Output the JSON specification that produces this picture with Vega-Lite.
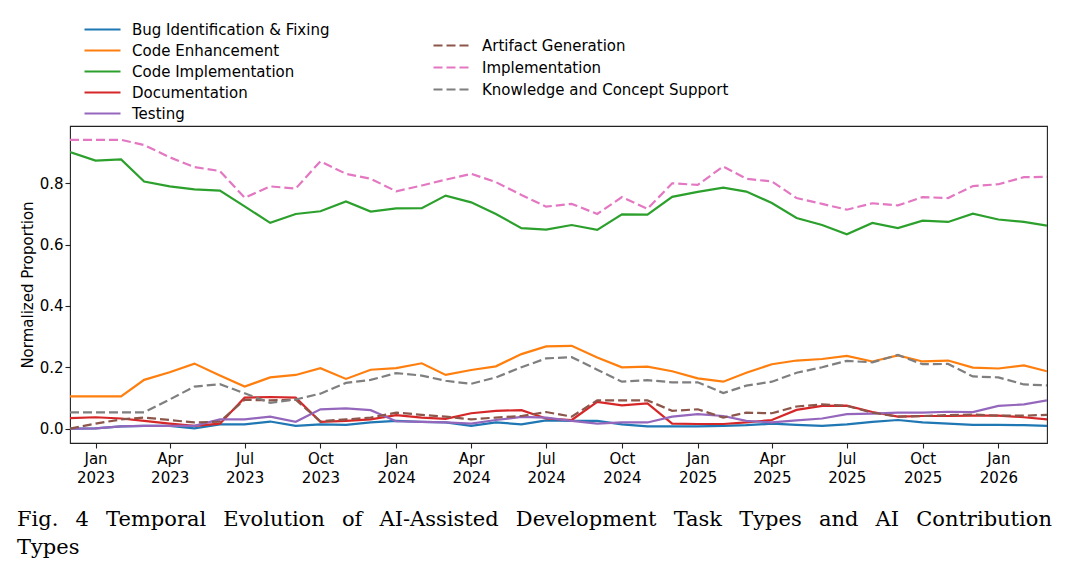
{
  "$schema": "https://vega.github.io/schema/vega-lite/v6.json",
  "width": 977,
  "height": 317,
  "autosize": {"type": "none"},
  "padding": {"left": 70, "top": 126, "right": 23, "bottom": 130},
  "background": "white",
  "title": {
    "text": ["Fig.\u2002 4\u2002 Temporal\u2002 Evolution\u2002 of\u2002 AI-Assisted\u2002 Development\u2002 Task\u2002 Types\u2002 and\u2002 AI\u2002 Contribution", "Types"],
    "orient": "bottom",
    "anchor": "start",
    "frame": "group",
    "dx": -53,
    "offset": 24,
    "font": "DejaVu Serif",
    "fontSize": 21,
    "fontWeight": "normal",
    "lineHeight": 28,
    "color": "black"
  },
  "datasets": {
    "tasks": [
      {"month": "2022-12-01T00:00:00", "series": "Bug Identification & Fixing", "value": 0.000},
      {"month": "2023-01-01T00:00:00", "series": "Bug Identification & Fixing", "value": 0.001},
      {"month": "2023-02-01T00:00:00", "series": "Bug Identification & Fixing", "value": 0.007},
      {"month": "2023-03-01T00:00:00", "series": "Bug Identification & Fixing", "value": 0.009},
      {"month": "2023-04-01T00:00:00", "series": "Bug Identification & Fixing", "value": 0.009},
      {"month": "2023-05-01T00:00:00", "series": "Bug Identification & Fixing", "value": 0.001},
      {"month": "2023-06-01T00:00:00", "series": "Bug Identification & Fixing", "value": 0.014},
      {"month": "2023-07-01T00:00:00", "series": "Bug Identification & Fixing", "value": 0.014},
      {"month": "2023-08-01T00:00:00", "series": "Bug Identification & Fixing", "value": 0.023},
      {"month": "2023-09-01T00:00:00", "series": "Bug Identification & Fixing", "value": 0.009},
      {"month": "2023-10-01T00:00:00", "series": "Bug Identification & Fixing", "value": 0.014},
      {"month": "2023-11-01T00:00:00", "series": "Bug Identification & Fixing", "value": 0.012},
      {"month": "2023-12-01T00:00:00", "series": "Bug Identification & Fixing", "value": 0.020},
      {"month": "2024-01-01T00:00:00", "series": "Bug Identification & Fixing", "value": 0.025},
      {"month": "2024-02-01T00:00:00", "series": "Bug Identification & Fixing", "value": 0.022},
      {"month": "2024-03-01T00:00:00", "series": "Bug Identification & Fixing", "value": 0.020},
      {"month": "2024-04-01T00:00:00", "series": "Bug Identification & Fixing", "value": 0.009},
      {"month": "2024-05-01T00:00:00", "series": "Bug Identification & Fixing", "value": 0.020},
      {"month": "2024-06-01T00:00:00", "series": "Bug Identification & Fixing", "value": 0.014},
      {"month": "2024-07-01T00:00:00", "series": "Bug Identification & Fixing", "value": 0.027},
      {"month": "2024-08-01T00:00:00", "series": "Bug Identification & Fixing", "value": 0.025},
      {"month": "2024-09-01T00:00:00", "series": "Bug Identification & Fixing", "value": 0.025},
      {"month": "2024-10-01T00:00:00", "series": "Bug Identification & Fixing", "value": 0.014},
      {"month": "2024-11-01T00:00:00", "series": "Bug Identification & Fixing", "value": 0.007},
      {"month": "2024-12-01T00:00:00", "series": "Bug Identification & Fixing", "value": 0.007},
      {"month": "2025-01-01T00:00:00", "series": "Bug Identification & Fixing", "value": 0.007},
      {"month": "2025-02-01T00:00:00", "series": "Bug Identification & Fixing", "value": 0.009},
      {"month": "2025-03-01T00:00:00", "series": "Bug Identification & Fixing", "value": 0.011},
      {"month": "2025-04-01T00:00:00", "series": "Bug Identification & Fixing", "value": 0.016},
      {"month": "2025-05-01T00:00:00", "series": "Bug Identification & Fixing", "value": 0.012},
      {"month": "2025-06-01T00:00:00", "series": "Bug Identification & Fixing", "value": 0.009},
      {"month": "2025-07-01T00:00:00", "series": "Bug Identification & Fixing", "value": 0.014},
      {"month": "2025-08-01T00:00:00", "series": "Bug Identification & Fixing", "value": 0.022},
      {"month": "2025-09-01T00:00:00", "series": "Bug Identification & Fixing", "value": 0.028},
      {"month": "2025-10-01T00:00:00", "series": "Bug Identification & Fixing", "value": 0.020},
      {"month": "2025-11-01T00:00:00", "series": "Bug Identification & Fixing", "value": 0.016},
      {"month": "2025-12-01T00:00:00", "series": "Bug Identification & Fixing", "value": 0.012},
      {"month": "2026-01-01T00:00:00", "series": "Bug Identification & Fixing", "value": 0.012},
      {"month": "2026-02-01T00:00:00", "series": "Bug Identification & Fixing", "value": 0.011},
      {"month": "2026-03-01T00:00:00", "series": "Bug Identification & Fixing", "value": 0.009},

      {"month": "2022-12-01T00:00:00", "series": "Code Enhancement", "value": 0.105},
      {"month": "2023-01-01T00:00:00", "series": "Code Enhancement", "value": 0.105},
      {"month": "2023-02-01T00:00:00", "series": "Code Enhancement", "value": 0.105},
      {"month": "2023-03-01T00:00:00", "series": "Code Enhancement", "value": 0.159},
      {"month": "2023-04-01T00:00:00", "series": "Code Enhancement", "value": 0.184},
      {"month": "2023-05-01T00:00:00", "series": "Code Enhancement", "value": 0.212},
      {"month": "2023-06-01T00:00:00", "series": "Code Enhancement", "value": 0.173},
      {"month": "2023-07-01T00:00:00", "series": "Code Enhancement", "value": 0.137},
      {"month": "2023-08-01T00:00:00", "series": "Code Enhancement", "value": 0.167},
      {"month": "2023-09-01T00:00:00", "series": "Code Enhancement", "value": 0.175},
      {"month": "2023-10-01T00:00:00", "series": "Code Enhancement", "value": 0.197},
      {"month": "2023-11-01T00:00:00", "series": "Code Enhancement", "value": 0.162},
      {"month": "2023-12-01T00:00:00", "series": "Code Enhancement", "value": 0.192},
      {"month": "2024-01-01T00:00:00", "series": "Code Enhancement", "value": 0.197},
      {"month": "2024-02-01T00:00:00", "series": "Code Enhancement", "value": 0.213},
      {"month": "2024-03-01T00:00:00", "series": "Code Enhancement", "value": 0.175},
      {"month": "2024-04-01T00:00:00", "series": "Code Enhancement", "value": 0.191},
      {"month": "2024-05-01T00:00:00", "series": "Code Enhancement", "value": 0.203},
      {"month": "2024-06-01T00:00:00", "series": "Code Enhancement", "value": 0.243},
      {"month": "2024-07-01T00:00:00", "series": "Code Enhancement", "value": 0.268},
      {"month": "2024-08-01T00:00:00", "series": "Code Enhancement", "value": 0.270},
      {"month": "2024-09-01T00:00:00", "series": "Code Enhancement", "value": 0.232},
      {"month": "2024-10-01T00:00:00", "series": "Code Enhancement", "value": 0.200},
      {"month": "2024-11-01T00:00:00", "series": "Code Enhancement", "value": 0.202},
      {"month": "2024-12-01T00:00:00", "series": "Code Enhancement", "value": 0.187},
      {"month": "2025-01-01T00:00:00", "series": "Code Enhancement", "value": 0.164},
      {"month": "2025-02-01T00:00:00", "series": "Code Enhancement", "value": 0.153},
      {"month": "2025-03-01T00:00:00", "series": "Code Enhancement", "value": 0.182},
      {"month": "2025-04-01T00:00:00", "series": "Code Enhancement", "value": 0.210},
      {"month": "2025-05-01T00:00:00", "series": "Code Enhancement", "value": 0.222},
      {"month": "2025-06-01T00:00:00", "series": "Code Enhancement", "value": 0.227},
      {"month": "2025-07-01T00:00:00", "series": "Code Enhancement", "value": 0.237},
      {"month": "2025-08-01T00:00:00", "series": "Code Enhancement", "value": 0.219},
      {"month": "2025-09-01T00:00:00", "series": "Code Enhancement", "value": 0.239},
      {"month": "2025-10-01T00:00:00", "series": "Code Enhancement", "value": 0.219},
      {"month": "2025-11-01T00:00:00", "series": "Code Enhancement", "value": 0.222},
      {"month": "2025-12-01T00:00:00", "series": "Code Enhancement", "value": 0.199},
      {"month": "2026-01-01T00:00:00", "series": "Code Enhancement", "value": 0.196},
      {"month": "2026-02-01T00:00:00", "series": "Code Enhancement", "value": 0.206},
      {"month": "2026-03-01T00:00:00", "series": "Code Enhancement", "value": 0.187},

      {"month": "2022-12-01T00:00:00", "series": "Code Implementation", "value": 0.902},
      {"month": "2023-01-01T00:00:00", "series": "Code Implementation", "value": 0.874},
      {"month": "2023-02-01T00:00:00", "series": "Code Implementation", "value": 0.878},
      {"month": "2023-03-01T00:00:00", "series": "Code Implementation", "value": 0.806},
      {"month": "2023-04-01T00:00:00", "series": "Code Implementation", "value": 0.790},
      {"month": "2023-05-01T00:00:00", "series": "Code Implementation", "value": 0.780},
      {"month": "2023-06-01T00:00:00", "series": "Code Implementation", "value": 0.776},
      {"month": "2023-07-01T00:00:00", "series": "Code Implementation", "value": 0.725},
      {"month": "2023-08-01T00:00:00", "series": "Code Implementation", "value": 0.671},
      {"month": "2023-09-01T00:00:00", "series": "Code Implementation", "value": 0.700},
      {"month": "2023-10-01T00:00:00", "series": "Code Implementation", "value": 0.709},
      {"month": "2023-11-01T00:00:00", "series": "Code Implementation", "value": 0.741},
      {"month": "2023-12-01T00:00:00", "series": "Code Implementation", "value": 0.708},
      {"month": "2024-01-01T00:00:00", "series": "Code Implementation", "value": 0.718},
      {"month": "2024-02-01T00:00:00", "series": "Code Implementation", "value": 0.719},
      {"month": "2024-03-01T00:00:00", "series": "Code Implementation", "value": 0.760},
      {"month": "2024-04-01T00:00:00", "series": "Code Implementation", "value": 0.738},
      {"month": "2024-05-01T00:00:00", "series": "Code Implementation", "value": 0.700},
      {"month": "2024-06-01T00:00:00", "series": "Code Implementation", "value": 0.654},
      {"month": "2024-07-01T00:00:00", "series": "Code Implementation", "value": 0.649},
      {"month": "2024-08-01T00:00:00", "series": "Code Implementation", "value": 0.664},
      {"month": "2024-09-01T00:00:00", "series": "Code Implementation", "value": 0.648},
      {"month": "2024-10-01T00:00:00", "series": "Code Implementation", "value": 0.699},
      {"month": "2024-11-01T00:00:00", "series": "Code Implementation", "value": 0.698},
      {"month": "2024-12-01T00:00:00", "series": "Code Implementation", "value": 0.756},
      {"month": "2025-01-01T00:00:00", "series": "Code Implementation", "value": 0.772},
      {"month": "2025-02-01T00:00:00", "series": "Code Implementation", "value": 0.786},
      {"month": "2025-03-01T00:00:00", "series": "Code Implementation", "value": 0.773},
      {"month": "2025-04-01T00:00:00", "series": "Code Implementation", "value": 0.736},
      {"month": "2025-05-01T00:00:00", "series": "Code Implementation", "value": 0.687},
      {"month": "2025-06-01T00:00:00", "series": "Code Implementation", "value": 0.664},
      {"month": "2025-07-01T00:00:00", "series": "Code Implementation", "value": 0.634},
      {"month": "2025-08-01T00:00:00", "series": "Code Implementation", "value": 0.671},
      {"month": "2025-09-01T00:00:00", "series": "Code Implementation", "value": 0.654},
      {"month": "2025-10-01T00:00:00", "series": "Code Implementation", "value": 0.678},
      {"month": "2025-11-01T00:00:00", "series": "Code Implementation", "value": 0.674},
      {"month": "2025-12-01T00:00:00", "series": "Code Implementation", "value": 0.701},
      {"month": "2026-01-01T00:00:00", "series": "Code Implementation", "value": 0.682},
      {"month": "2026-02-01T00:00:00", "series": "Code Implementation", "value": 0.674},
      {"month": "2026-03-01T00:00:00", "series": "Code Implementation", "value": 0.662},

      {"month": "2022-12-01T00:00:00", "series": "Documentation", "value": 0.034},
      {"month": "2023-01-01T00:00:00", "series": "Documentation", "value": 0.037},
      {"month": "2023-02-01T00:00:00", "series": "Documentation", "value": 0.033},
      {"month": "2023-03-01T00:00:00", "series": "Documentation", "value": 0.025},
      {"month": "2023-04-01T00:00:00", "series": "Documentation", "value": 0.016},
      {"month": "2023-05-01T00:00:00", "series": "Documentation", "value": 0.009},
      {"month": "2023-06-01T00:00:00", "series": "Documentation", "value": 0.016},
      {"month": "2023-07-01T00:00:00", "series": "Documentation", "value": 0.101},
      {"month": "2023-08-01T00:00:00", "series": "Documentation", "value": 0.103},
      {"month": "2023-09-01T00:00:00", "series": "Documentation", "value": 0.101},
      {"month": "2023-10-01T00:00:00", "series": "Documentation", "value": 0.022},
      {"month": "2023-11-01T00:00:00", "series": "Documentation", "value": 0.025},
      {"month": "2023-12-01T00:00:00", "series": "Documentation", "value": 0.030},
      {"month": "2024-01-01T00:00:00", "series": "Documentation", "value": 0.044},
      {"month": "2024-02-01T00:00:00", "series": "Documentation", "value": 0.036},
      {"month": "2024-03-01T00:00:00", "series": "Documentation", "value": 0.032},
      {"month": "2024-04-01T00:00:00", "series": "Documentation", "value": 0.050},
      {"month": "2024-05-01T00:00:00", "series": "Documentation", "value": 0.058},
      {"month": "2024-06-01T00:00:00", "series": "Documentation", "value": 0.060},
      {"month": "2024-07-01T00:00:00", "series": "Documentation", "value": 0.033},
      {"month": "2024-08-01T00:00:00", "series": "Documentation", "value": 0.028},
      {"month": "2024-09-01T00:00:00", "series": "Documentation", "value": 0.087},
      {"month": "2024-10-01T00:00:00", "series": "Documentation", "value": 0.076},
      {"month": "2024-11-01T00:00:00", "series": "Documentation", "value": 0.082},
      {"month": "2024-12-01T00:00:00", "series": "Documentation", "value": 0.016},
      {"month": "2025-01-01T00:00:00", "series": "Documentation", "value": 0.015},
      {"month": "2025-02-01T00:00:00", "series": "Documentation", "value": 0.015},
      {"month": "2025-03-01T00:00:00", "series": "Documentation", "value": 0.020},
      {"month": "2025-04-01T00:00:00", "series": "Documentation", "value": 0.028},
      {"month": "2025-05-01T00:00:00", "series": "Documentation", "value": 0.061},
      {"month": "2025-06-01T00:00:00", "series": "Documentation", "value": 0.074},
      {"month": "2025-07-01T00:00:00", "series": "Documentation", "value": 0.075},
      {"month": "2025-08-01T00:00:00", "series": "Documentation", "value": 0.054},
      {"month": "2025-09-01T00:00:00", "series": "Documentation", "value": 0.039},
      {"month": "2025-10-01T00:00:00", "series": "Documentation", "value": 0.041},
      {"month": "2025-11-01T00:00:00", "series": "Documentation", "value": 0.041},
      {"month": "2025-12-01T00:00:00", "series": "Documentation", "value": 0.042},
      {"month": "2026-01-01T00:00:00", "series": "Documentation", "value": 0.042},
      {"month": "2026-02-01T00:00:00", "series": "Documentation", "value": 0.037},
      {"month": "2026-03-01T00:00:00", "series": "Documentation", "value": 0.030},

      {"month": "2022-12-01T00:00:00", "series": "Testing", "value": 0.000},
      {"month": "2023-01-01T00:00:00", "series": "Testing", "value": 0.001},
      {"month": "2023-02-01T00:00:00", "series": "Testing", "value": 0.007},
      {"month": "2023-03-01T00:00:00", "series": "Testing", "value": 0.009},
      {"month": "2023-04-01T00:00:00", "series": "Testing", "value": 0.009},
      {"month": "2023-05-01T00:00:00", "series": "Testing", "value": 0.009},
      {"month": "2023-06-01T00:00:00", "series": "Testing", "value": 0.030},
      {"month": "2023-07-01T00:00:00", "series": "Testing", "value": 0.030},
      {"month": "2023-08-01T00:00:00", "series": "Testing", "value": 0.039},
      {"month": "2023-09-01T00:00:00", "series": "Testing", "value": 0.022},
      {"month": "2023-10-01T00:00:00", "series": "Testing", "value": 0.063},
      {"month": "2023-11-01T00:00:00", "series": "Testing", "value": 0.066},
      {"month": "2023-12-01T00:00:00", "series": "Testing", "value": 0.060},
      {"month": "2024-01-01T00:00:00", "series": "Testing", "value": 0.024},
      {"month": "2024-02-01T00:00:00", "series": "Testing", "value": 0.022},
      {"month": "2024-03-01T00:00:00", "series": "Testing", "value": 0.020},
      {"month": "2024-04-01T00:00:00", "series": "Testing", "value": 0.016},
      {"month": "2024-05-01T00:00:00", "series": "Testing", "value": 0.028},
      {"month": "2024-06-01T00:00:00", "series": "Testing", "value": 0.038},
      {"month": "2024-07-01T00:00:00", "series": "Testing", "value": 0.036},
      {"month": "2024-08-01T00:00:00", "series": "Testing", "value": 0.025},
      {"month": "2024-09-01T00:00:00", "series": "Testing", "value": 0.016},
      {"month": "2024-10-01T00:00:00", "series": "Testing", "value": 0.020},
      {"month": "2024-11-01T00:00:00", "series": "Testing", "value": 0.020},
      {"month": "2024-12-01T00:00:00", "series": "Testing", "value": 0.039},
      {"month": "2025-01-01T00:00:00", "series": "Testing", "value": 0.047},
      {"month": "2025-02-01T00:00:00", "series": "Testing", "value": 0.041},
      {"month": "2025-03-01T00:00:00", "series": "Testing", "value": 0.025},
      {"month": "2025-04-01T00:00:00", "series": "Testing", "value": 0.020},
      {"month": "2025-05-01T00:00:00", "series": "Testing", "value": 0.027},
      {"month": "2025-06-01T00:00:00", "series": "Testing", "value": 0.033},
      {"month": "2025-07-01T00:00:00", "series": "Testing", "value": 0.047},
      {"month": "2025-08-01T00:00:00", "series": "Testing", "value": 0.049},
      {"month": "2025-09-01T00:00:00", "series": "Testing", "value": 0.052},
      {"month": "2025-10-01T00:00:00", "series": "Testing", "value": 0.052},
      {"month": "2025-11-01T00:00:00", "series": "Testing", "value": 0.055},
      {"month": "2025-12-01T00:00:00", "series": "Testing", "value": 0.054},
      {"month": "2026-01-01T00:00:00", "series": "Testing", "value": 0.074},
      {"month": "2026-02-01T00:00:00", "series": "Testing", "value": 0.079},
      {"month": "2026-03-01T00:00:00", "series": "Testing", "value": 0.092}
    ],
    "contributions": [
      {"month": "2022-12-01T00:00:00", "series": "Artifact Generation", "value": 0.000},
      {"month": "2023-01-01T00:00:00", "series": "Artifact Generation", "value": 0.016},
      {"month": "2023-02-01T00:00:00", "series": "Artifact Generation", "value": 0.030},
      {"month": "2023-03-01T00:00:00", "series": "Artifact Generation", "value": 0.036},
      {"month": "2023-04-01T00:00:00", "series": "Artifact Generation", "value": 0.028},
      {"month": "2023-05-01T00:00:00", "series": "Artifact Generation", "value": 0.020},
      {"month": "2023-06-01T00:00:00", "series": "Artifact Generation", "value": 0.023},
      {"month": "2023-07-01T00:00:00", "series": "Artifact Generation", "value": 0.094},
      {"month": "2023-08-01T00:00:00", "series": "Artifact Generation", "value": 0.092},
      {"month": "2023-09-01T00:00:00", "series": "Artifact Generation", "value": 0.094},
      {"month": "2023-10-01T00:00:00", "series": "Artifact Generation", "value": 0.024},
      {"month": "2023-11-01T00:00:00", "series": "Artifact Generation", "value": 0.030},
      {"month": "2023-12-01T00:00:00", "series": "Artifact Generation", "value": 0.036},
      {"month": "2024-01-01T00:00:00", "series": "Artifact Generation", "value": 0.052},
      {"month": "2024-02-01T00:00:00", "series": "Artifact Generation", "value": 0.045},
      {"month": "2024-03-01T00:00:00", "series": "Artifact Generation", "value": 0.039},
      {"month": "2024-04-01T00:00:00", "series": "Artifact Generation", "value": 0.030},
      {"month": "2024-05-01T00:00:00", "series": "Artifact Generation", "value": 0.036},
      {"month": "2024-06-01T00:00:00", "series": "Artifact Generation", "value": 0.041},
      {"month": "2024-07-01T00:00:00", "series": "Artifact Generation", "value": 0.054},
      {"month": "2024-08-01T00:00:00", "series": "Artifact Generation", "value": 0.039},
      {"month": "2024-09-01T00:00:00", "series": "Artifact Generation", "value": 0.092},
      {"month": "2024-10-01T00:00:00", "series": "Artifact Generation", "value": 0.092},
      {"month": "2024-11-01T00:00:00", "series": "Artifact Generation", "value": 0.092},
      {"month": "2024-12-01T00:00:00", "series": "Artifact Generation", "value": 0.058},
      {"month": "2025-01-01T00:00:00", "series": "Artifact Generation", "value": 0.063},
      {"month": "2025-02-01T00:00:00", "series": "Artifact Generation", "value": 0.036},
      {"month": "2025-03-01T00:00:00", "series": "Artifact Generation", "value": 0.052},
      {"month": "2025-04-01T00:00:00", "series": "Artifact Generation", "value": 0.050},
      {"month": "2025-05-01T00:00:00", "series": "Artifact Generation", "value": 0.072},
      {"month": "2025-06-01T00:00:00", "series": "Artifact Generation", "value": 0.079},
      {"month": "2025-07-01T00:00:00", "series": "Artifact Generation", "value": 0.074},
      {"month": "2025-08-01T00:00:00", "series": "Artifact Generation", "value": 0.052},
      {"month": "2025-09-01T00:00:00", "series": "Artifact Generation", "value": 0.039},
      {"month": "2025-10-01T00:00:00", "series": "Artifact Generation", "value": 0.041},
      {"month": "2025-11-01T00:00:00", "series": "Artifact Generation", "value": 0.044},
      {"month": "2025-12-01T00:00:00", "series": "Artifact Generation", "value": 0.046},
      {"month": "2026-01-01T00:00:00", "series": "Artifact Generation", "value": 0.042},
      {"month": "2026-02-01T00:00:00", "series": "Artifact Generation", "value": 0.042},
      {"month": "2026-03-01T00:00:00", "series": "Artifact Generation", "value": 0.045},

      {"month": "2022-12-01T00:00:00", "series": "Implementation", "value": 0.942},
      {"month": "2023-01-01T00:00:00", "series": "Implementation", "value": 0.942},
      {"month": "2023-02-01T00:00:00", "series": "Implementation", "value": 0.942},
      {"month": "2023-03-01T00:00:00", "series": "Implementation", "value": 0.925},
      {"month": "2023-04-01T00:00:00", "series": "Implementation", "value": 0.885},
      {"month": "2023-05-01T00:00:00", "series": "Implementation", "value": 0.853},
      {"month": "2023-06-01T00:00:00", "series": "Implementation", "value": 0.840},
      {"month": "2023-07-01T00:00:00", "series": "Implementation", "value": 0.753},
      {"month": "2023-08-01T00:00:00", "series": "Implementation", "value": 0.790},
      {"month": "2023-09-01T00:00:00", "series": "Implementation", "value": 0.783},
      {"month": "2023-10-01T00:00:00", "series": "Implementation", "value": 0.872},
      {"month": "2023-11-01T00:00:00", "series": "Implementation", "value": 0.831},
      {"month": "2023-12-01T00:00:00", "series": "Implementation", "value": 0.815},
      {"month": "2024-01-01T00:00:00", "series": "Implementation", "value": 0.774},
      {"month": "2024-02-01T00:00:00", "series": "Implementation", "value": 0.793},
      {"month": "2024-03-01T00:00:00", "series": "Implementation", "value": 0.812},
      {"month": "2024-04-01T00:00:00", "series": "Implementation", "value": 0.831},
      {"month": "2024-05-01T00:00:00", "series": "Implementation", "value": 0.804},
      {"month": "2024-06-01T00:00:00", "series": "Implementation", "value": 0.762},
      {"month": "2024-07-01T00:00:00", "series": "Implementation", "value": 0.724},
      {"month": "2024-08-01T00:00:00", "series": "Implementation", "value": 0.733},
      {"month": "2024-09-01T00:00:00", "series": "Implementation", "value": 0.700},
      {"month": "2024-10-01T00:00:00", "series": "Implementation", "value": 0.755},
      {"month": "2024-11-01T00:00:00", "series": "Implementation", "value": 0.717},
      {"month": "2024-12-01T00:00:00", "series": "Implementation", "value": 0.800},
      {"month": "2025-01-01T00:00:00", "series": "Implementation", "value": 0.795},
      {"month": "2025-02-01T00:00:00", "series": "Implementation", "value": 0.855},
      {"month": "2025-03-01T00:00:00", "series": "Implementation", "value": 0.815},
      {"month": "2025-04-01T00:00:00", "series": "Implementation", "value": 0.806},
      {"month": "2025-05-01T00:00:00", "series": "Implementation", "value": 0.752},
      {"month": "2025-06-01T00:00:00", "series": "Implementation", "value": 0.733},
      {"month": "2025-07-01T00:00:00", "series": "Implementation", "value": 0.714},
      {"month": "2025-08-01T00:00:00", "series": "Implementation", "value": 0.735},
      {"month": "2025-09-01T00:00:00", "series": "Implementation", "value": 0.728},
      {"month": "2025-10-01T00:00:00", "series": "Implementation", "value": 0.755},
      {"month": "2025-11-01T00:00:00", "series": "Implementation", "value": 0.752},
      {"month": "2025-12-01T00:00:00", "series": "Implementation", "value": 0.791},
      {"month": "2026-01-01T00:00:00", "series": "Implementation", "value": 0.797},
      {"month": "2026-02-01T00:00:00", "series": "Implementation", "value": 0.820},
      {"month": "2026-03-01T00:00:00", "series": "Implementation", "value": 0.821},

      {"month": "2022-12-01T00:00:00", "series": "Knowledge and Concept Support", "value": 0.053},
      {"month": "2023-01-01T00:00:00", "series": "Knowledge and Concept Support", "value": 0.053},
      {"month": "2023-02-01T00:00:00", "series": "Knowledge and Concept Support", "value": 0.053},
      {"month": "2023-03-01T00:00:00", "series": "Knowledge and Concept Support", "value": 0.053},
      {"month": "2023-04-01T00:00:00", "series": "Knowledge and Concept Support", "value": 0.095},
      {"month": "2023-05-01T00:00:00", "series": "Knowledge and Concept Support", "value": 0.137},
      {"month": "2023-06-01T00:00:00", "series": "Knowledge and Concept Support", "value": 0.145},
      {"month": "2023-07-01T00:00:00", "series": "Knowledge and Concept Support", "value": 0.115},
      {"month": "2023-08-01T00:00:00", "series": "Knowledge and Concept Support", "value": 0.084},
      {"month": "2023-09-01T00:00:00", "series": "Knowledge and Concept Support", "value": 0.095},
      {"month": "2023-10-01T00:00:00", "series": "Knowledge and Concept Support", "value": 0.114},
      {"month": "2023-11-01T00:00:00", "series": "Knowledge and Concept Support", "value": 0.149},
      {"month": "2023-12-01T00:00:00", "series": "Knowledge and Concept Support", "value": 0.159},
      {"month": "2024-01-01T00:00:00", "series": "Knowledge and Concept Support", "value": 0.181},
      {"month": "2024-02-01T00:00:00", "series": "Knowledge and Concept Support", "value": 0.173},
      {"month": "2024-03-01T00:00:00", "series": "Knowledge and Concept Support", "value": 0.156},
      {"month": "2024-04-01T00:00:00", "series": "Knowledge and Concept Support", "value": 0.146},
      {"month": "2024-05-01T00:00:00", "series": "Knowledge and Concept Support", "value": 0.167},
      {"month": "2024-06-01T00:00:00", "series": "Knowledge and Concept Support", "value": 0.200},
      {"month": "2024-07-01T00:00:00", "series": "Knowledge and Concept Support", "value": 0.229},
      {"month": "2024-08-01T00:00:00", "series": "Knowledge and Concept Support", "value": 0.233},
      {"month": "2024-09-01T00:00:00", "series": "Knowledge and Concept Support", "value": 0.192},
      {"month": "2024-10-01T00:00:00", "series": "Knowledge and Concept Support", "value": 0.153},
      {"month": "2024-11-01T00:00:00", "series": "Knowledge and Concept Support", "value": 0.158},
      {"month": "2024-12-01T00:00:00", "series": "Knowledge and Concept Support", "value": 0.151},
      {"month": "2025-01-01T00:00:00", "series": "Knowledge and Concept Support", "value": 0.151},
      {"month": "2025-02-01T00:00:00", "series": "Knowledge and Concept Support", "value": 0.116},
      {"month": "2025-03-01T00:00:00", "series": "Knowledge and Concept Support", "value": 0.140},
      {"month": "2025-04-01T00:00:00", "series": "Knowledge and Concept Support", "value": 0.153},
      {"month": "2025-05-01T00:00:00", "series": "Knowledge and Concept Support", "value": 0.182},
      {"month": "2025-06-01T00:00:00", "series": "Knowledge and Concept Support", "value": 0.200},
      {"month": "2025-07-01T00:00:00", "series": "Knowledge and Concept Support", "value": 0.221},
      {"month": "2025-08-01T00:00:00", "series": "Knowledge and Concept Support", "value": 0.216},
      {"month": "2025-09-01T00:00:00", "series": "Knowledge and Concept Support", "value": 0.240},
      {"month": "2025-10-01T00:00:00", "series": "Knowledge and Concept Support", "value": 0.210},
      {"month": "2025-11-01T00:00:00", "series": "Knowledge and Concept Support", "value": 0.211},
      {"month": "2025-12-01T00:00:00", "series": "Knowledge and Concept Support", "value": 0.170},
      {"month": "2026-01-01T00:00:00", "series": "Knowledge and Concept Support", "value": 0.167},
      {"month": "2026-02-01T00:00:00", "series": "Knowledge and Concept Support", "value": 0.144},
      {"month": "2026-03-01T00:00:00", "series": "Knowledge and Concept Support", "value": 0.141}
    ]
  },
  "layer": [
    {
      "data": {"name": "tasks"},
      "mark": {"type": "line", "strokeWidth": 2.2, "clip": true},
      "encoding": {
        "x": {
          "field": "month",
          "type": "temporal",
          "scale": {
            "domain": [
              {"year": 2022, "month": "dec", "date": 1},
              {"year": 2026, "month": "mar", "date": 1}
            ],
            "nice": false
          },
          "axis": {
            "title": null,
            "tickCount": {"interval": "month", "step": 3},
            "labelExpr": "[timeFormat(datum.value, '%b'), timeFormat(datum.value, '%Y')]",
            "labelLineHeight": 19,
            "labelPadding": 3
          }
        },
        "y": {
          "field": "value",
          "type": "quantitative",
          "scale": {"domain": [-0.047, 0.987], "nice": false, "zero": false},
          "axis": {
            "title": "Normalized Proportion",
            "values": [0, 0.2, 0.4, 0.6, 0.8],
            "format": ".1f",
            "titlePadding": 4
          }
        },
        "color": {
          "field": "series",
          "type": "nominal",
          "scale": {
            "domain": ["Bug Identification & Fixing", "Code Enhancement", "Code Implementation", "Documentation", "Testing"],
            "range": ["#1f77b4", "#ff7f0e", "#2ca02c", "#d62728", "#9467bd"]
          },
          "legend": {
            "title": null,
            "orient": "none",
            "legendX": 22,
            "legendY": -107,
            "rowPadding": 2,
            "labelOffset": 19
          }
        }
      }
    },
    {
      "data": {"name": "contributions"},
      "mark": {"type": "line", "strokeWidth": 2.2, "strokeDash": [9, 4], "clip": true},
      "encoding": {
        "x": {"field": "month", "type": "temporal"},
        "y": {"field": "value", "type": "quantitative"},
        "color": {
          "field": "series",
          "type": "nominal",
          "scale": {
            "domain": ["Artifact Generation", "Implementation", "Knowledge and Concept Support"],
            "range": ["#8c564b", "#e377c2", "#7f7f7f"]
          },
          "legend": {
            "title": null,
            "orient": "none",
            "legendX": 371,
            "legendY": -91,
            "rowPadding": 3,
            "labelOffset": 20,
            "symbolDash": [9, 4]
          }
        }
      }
    }
  ],
  "resolve": {"scale": {"color": "independent"}, "legend": {"color": "independent"}},
  "config": {
    "font": "DejaVu Sans",
    "view": {"stroke": "#222222", "strokeWidth": 1.1},
    "axis": {
      "grid": false,
      "domain": false,
      "labelFont": "DejaVu Sans",
      "labelFontSize": 15,
      "labelColor": "black",
      "tickColor": "#222222",
      "tickSize": 5,
      "tickWidth": 1.1,
      "titleFont": "DejaVu Sans",
      "titleFontSize": 15,
      "titleFontWeight": "normal",
      "titleColor": "black"
    },
    "legend": {
      "labelFont": "DejaVu Sans",
      "labelFontSize": 15,
      "labelColor": "black",
      "labelLimit": 0,
      "symbolType": "M-2,0H2",
      "symbolSize": 324,
      "symbolStrokeWidth": 2.2,
      "padding": 0
    }
  }
}
